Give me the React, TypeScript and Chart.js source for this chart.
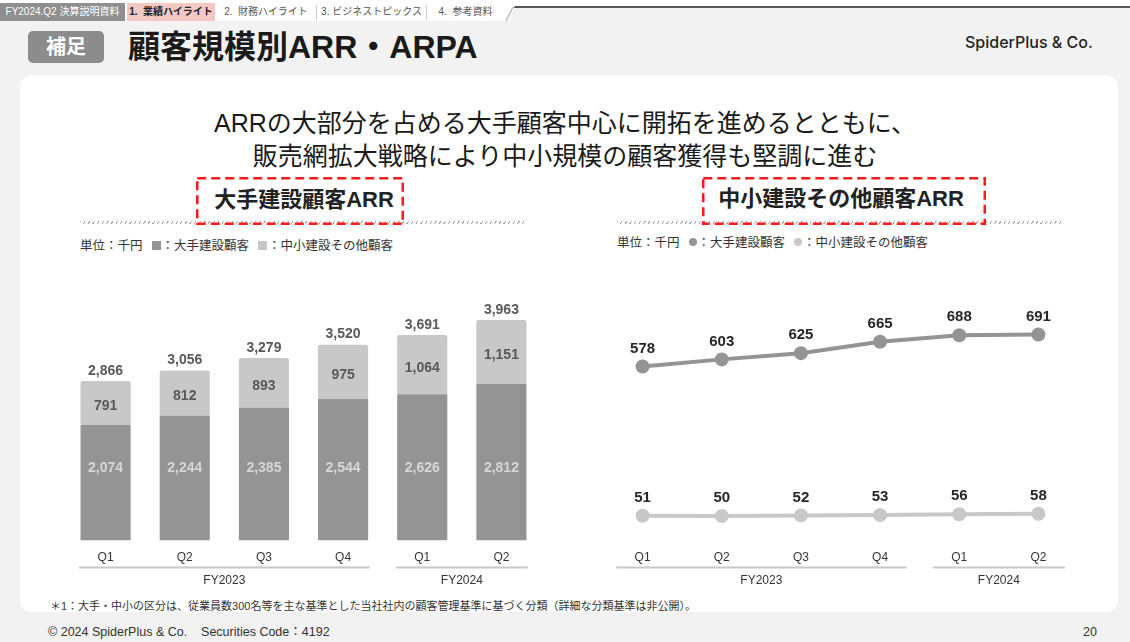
import React, { useEffect, useRef } from "react";
import { Chart, registerables } from "chart.js";

Chart.register(...registerables);

// ---- data ----
const quarters = ["Q1", "Q2", "Q3", "Q4", "Q1", "Q2"];
const fiscalYearLabels = ["FY2023", "FY2024"];
const fiscalYearSpans = [
  [0, 3],
  [4, 5],
];
const largeArr = [2074, 2244, 2385, 2544, 2626, 2812];
const smallArr = [791, 812, 893, 975, 1064, 1151];
const totalArr = [2866, 3056, 3279, 3520, 3691, 3963];
const largeArpa = [578, 603, 625, 665, 688, 691];
const smallArpa = [51, 50, 52, 53, 56, 58];

const DARK = "#949494";
const LIGHT = "#c8c8c8";
const FONT = '"Liberation Sans", "Noto Sans CJK JP", Arial, sans-serif';

const fmt = (v: number) => v.toLocaleString("en-US");

const groupPlugin = {
  id: "fyGroups",
  afterDraw(chart: any) {
    const { ctx, chartArea } = chart;
    const x = chart.scales.x;
    const band = x.getPixelForTick(1) - x.getPixelForTick(0);
    const lineY = chartArea.bottom + 27;
    const labelY = chartArea.bottom + 40;
    ctx.save();
    fiscalYearLabels.forEach((lab, g) => {
      const [a, b] = fiscalYearSpans[g];
      const x0 = x.getPixelForTick(a) - band * 0.335;
      const x1 = x.getPixelForTick(b) + band * 0.335;
      ctx.strokeStyle = LIGHT;
      ctx.lineWidth = 2;
      ctx.beginPath();
      ctx.moveTo(x0, lineY);
      ctx.lineTo(x1, lineY);
      ctx.stroke();
      ctx.fillStyle = "#333";
      ctx.font = `12px ${FONT}`;
      ctx.textAlign = "center";
      ctx.textBaseline = "middle";
      ctx.fillText(lab, (x0 + x1) / 2, labelY);
    });
    ctx.restore();
  },
};

const barLabelPlugin = {
  id: "barLabels",
  afterDatasetsDraw(chart: any) {
    const { ctx } = chart;
    const y = chart.scales.y;
    const m0 = chart.getDatasetMeta(0);
    const m1 = chart.getDatasetMeta(1);
    ctx.save();
    ctx.textAlign = "center";
    ctx.textBaseline = "middle";
    ctx.font = `bold 14px ${FONT}`;
    m0.data.forEach((bar: any, i: number) => {
      ctx.fillStyle = "#d6d6d6";
      ctx.fillText(fmt(largeArr[i]), bar.x, y.getPixelForValue(1300));
      const top = m1.data[i];
      ctx.fillStyle = "#595959";
      ctx.fillText(fmt(smallArr[i]), top.x, (top.y + top.base) / 2 + 3);
      ctx.fillText(fmt(totalArr[i]), top.x, top.y - 10);
    });
    ctx.restore();
  },
};

const pointLabelPlugin = {
  id: "pointLabels",
  afterDatasetsDraw(chart: any) {
    const { ctx } = chart;
    ctx.save();
    ctx.textAlign = "center";
    ctx.textBaseline = "middle";
    ctx.font = `bold 15px ${FONT}`;
    ctx.fillStyle = "#262626";
    [largeArpa, smallArpa].forEach((vals, d) => {
      const meta = chart.getDatasetMeta(d);
      meta.data.forEach((pt: any, i: number) => {
        ctx.fillText(String(vals[i]), pt.x, pt.y - 18);
      });
    });
    ctx.restore();
  },
};

const xAxis = {
  offset: true,
  grid: { display: false, drawTicks: false },
  border: { display: false },
  ticks: { color: "#333", font: { size: 12, family: FONT }, padding: 10 },
};

const layout = { autoPadding: false, padding: { top: 20, bottom: 17, left: 0, right: 0 } };

export default function App() {
  const barRef = useRef<HTMLCanvasElement>(null);
  const lineRef = useRef<HTMLCanvasElement>(null);

  useEffect(() => {
    Chart.defaults.font.family = FONT;
    const bar = new Chart(barRef.current!, {
      type: "bar",
      data: {
        labels: quarters,
        datasets: [
          {
            label: "大手建設顧客",
            data: largeArr,
            backgroundColor: DARK,
            categoryPercentage: 1,
            barPercentage: 0.633,
          },
          {
            label: "中小建設その他顧客",
            data: smallArr,
            backgroundColor: LIGHT,
            categoryPercentage: 1,
            barPercentage: 0.633,
            borderRadius: { topLeft: 2, topRight: 2, bottomLeft: 0, bottomRight: 0 },
            borderSkipped: "bottom",
          },
        ],
      },
      options: {
        responsive: false,
        animation: false,
        devicePixelRatio: 1,
        layout,
        plugins: { legend: { display: false }, tooltip: { enabled: false } },
        scales: {
          x: { ...xAxis, stacked: true },
          y: { display: false, stacked: true, min: 0, max: 4500 },
        },
      },
      plugins: [barLabelPlugin, groupPlugin],
    } as any);

    const line = new Chart(lineRef.current!, {
      type: "line",
      data: {
        labels: quarters,
        datasets: [
          {
            label: "大手建設顧客",
            data: largeArpa,
            borderColor: DARK,
            backgroundColor: DARK,
            borderWidth: 4,
            pointRadius: 7,
            pointBorderWidth: 0,
            pointBackgroundColor: DARK,
            tension: 0,
            clip: false,
          },
          {
            label: "中小建設その他顧客",
            data: smallArpa,
            borderColor: LIGHT,
            backgroundColor: LIGHT,
            borderWidth: 4,
            pointRadius: 7,
            pointBorderWidth: 0,
            pointBackgroundColor: LIGHT,
            tension: 0,
            clip: false,
          },
        ],
      },
      options: {
        responsive: false,
        animation: false,
        devicePixelRatio: 1,
        layout,
        plugins: { legend: { display: false }, tooltip: { enabled: false } },
        scales: {
          x: xAxis,
          y: { display: false, min: -37, max: 848 },
        },
      },
      plugins: [pointLabelPlugin, groupPlugin],
    } as any);

    return () => {
      bar.destroy();
      line.destroy();
    };
  }, []);

  const abs = (s: React.CSSProperties): React.CSSProperties => ({ position: "absolute", ...s });
  const hatch =
    "repeating-linear-gradient(120deg, #a8a8a8 0px, #a8a8a8 1px, transparent 1px, transparent 4px)";

  const tab = (left: number, width: number, text: string, bg: string, color: string, bold = false) => (
    <div
      style={abs({
        left,
        top: 3,
        width,
        height: 18,
        background: bg,
        color,
        fontSize: 10,
        lineHeight: "18px",
        fontWeight: bold ? 700 : 400,
        textAlign: "center",
        whiteSpace: "pre",
      })}
    >
      {text}
    </div>
  );

  const marker = (color: string, round: boolean): React.ReactNode => (
    <span
      style={{
        display: "inline-block",
        width: round ? 8 : 9,
        height: round ? 8 : 9,
        borderRadius: round ? "50%" : 0,
        background: color,
        marginLeft: 9,
        marginRight: 1,
        verticalAlign: round ? "1px" : "0px",
      }}
    />
  );

  return (
    <div
      style={abs({
        left: 0,
        top: 0,
        width: 1130,
        height: 642,
        background: "#f2f2f2",
        overflow: "hidden",
        fontFamily: FONT,
        color: "#1a1a1a",
      })}
    >
      {/* top bar */}
      <div style={abs({ left: 0, top: 0, width: 1130, height: 7, background: "#fff" })} />
      <div style={abs({ left: 0, top: 0, width: 508, height: 21, background: "#fff" })} />
      <div style={abs({ left: 512, top: 6, width: 618, height: 1.5, background: "#555" })} />
      <svg style={abs({ left: 500, top: 0 })} width={20} height={22}>
        <polygon points="0,3 16,3 8,21 0,21" fill="#fff" />
        <line x1={6} y1={21} x2={13} y2={7} stroke="#999" strokeWidth={1} />
      </svg>
      {tab(0, 125, "FY2024.Q2 決算説明資料", "#8f8f8f", "#fff")}
      {tab(127, 88, "1.  業績ハイライト", "#f4c9c4", "#222", true)}
      {tab(217, 98, "2.  財務ハイライト", "#fff", "#555")}
      <div style={abs({ left: 316, top: 5, width: 1, height: 15, background: "#ccc" })} />
      {tab(318, 107, "3. ビジネストピックス", "#fff", "#555")}
      <div style={abs({ left: 426, top: 5, width: 1, height: 15, background: "#ccc" })} />
      {tab(428, 75, "4.  参考資料", "#fff", "#555")}

      {/* title row */}
      <div
        style={abs({
          left: 28,
          top: 31,
          width: 76,
          height: 32,
          background: "#8c8c8c",
          borderRadius: 5,
          color: "#fff",
          fontSize: 20,
          fontWeight: 700,
          lineHeight: "32px",
          textAlign: "center",
        })}
      >
        補足
      </div>
      <div style={abs({ left: 128, top: 27, fontSize: 32, fontWeight: 700, lineHeight: "40px", whiteSpace: "nowrap" })}>
        顧客規模別ARR・ARPA
      </div>
      <div
        style={abs({
          left: 965,
          top: 33,
          fontSize: 16,
          fontWeight: 500,
          lineHeight: "18px",
          fontFamily: 'Inter, "Liberation Sans", sans-serif',
          color: "#222",
          whiteSpace: "nowrap",
        })}
      >
        SpiderPlus &amp; Co.
      </div>

      {/* panel */}
      <div style={abs({ left: 20, top: 75, width: 1098, height: 537, background: "#fff", borderRadius: 12 })} />

      <div
        style={abs({
          left: 0,
          top: 107,
          width: 1130,
          textAlign: "center",
          fontSize: 25,
          lineHeight: "33px",
          color: "#1a1a1a",
        })}
      >
        ARRの大部分を占める大手顧客中心に開拓を進めるとともに、
        <br />
        販売網拡大戦略により中小規模の顧客獲得も堅調に進む
      </div>

      {/* section headers */}
      <div style={abs({ left: 80, top: 221, width: 447, height: 3, background: hatch })} />
      <div style={abs({ left: 617, top: 221, width: 447, height: 3, background: hatch })} />
      <div
        style={abs({ left: 204, top: 187, width: 200, textAlign: "center", fontSize: 22, fontWeight: 700, lineHeight: "26px", color: "#222" })}
      >
        大手建設顧客ARR
      </div>
      <div
        style={abs({ left: 691, top: 186, width: 300, textAlign: "center", fontSize: 22, fontWeight: 700, lineHeight: "26px", color: "#222" })}
      >
        中小建設その他顧客ARR
      </div>
      <svg style={abs({ left: 196, top: 177 })} width={208} height={48}>
        <rect x={1.25} y={1.25} width={205.5} height={45.5} fill="none" stroke="#ff1a1a" strokeWidth={2.5} strokeDasharray="9 5" />
      </svg>
      <svg style={abs({ left: 702, top: 177 })} width={284} height={48}>
        <rect x={1.25} y={1.25} width={281.5} height={45.5} fill="none" stroke="#ff1a1a" strokeWidth={2.5} strokeDasharray="9 5" />
      </svg>

      {/* legends */}
      <div style={abs({ left: 80, top: 238, fontSize: 12.5, lineHeight: "17px", color: "#333", whiteSpace: "nowrap" })}>
        単位：千円
        {marker(DARK, false)}：大手建設顧客
        {marker(LIGHT, false)}：中小建設その他顧客
      </div>
      <div style={abs({ left: 617, top: 234.5, fontSize: 12.5, lineHeight: "17px", color: "#333", whiteSpace: "nowrap" })}>
        単位：千円
        {marker(DARK, true)}：大手建設顧客
        {marker(LIGHT, true)}：中小建設その他顧客
      </div>

      {/* charts */}
      <canvas ref={barRef} width={475} height={322} style={abs({ left: 66, top: 270, display: "block" })} />
      <canvas ref={lineRef} width={475} height={322} style={abs({ left: 603, top: 270, display: "block" })} />

      {/* footnote & footer */}
      <div style={abs({ left: 50, top: 599, fontSize: 11, lineHeight: "14px", color: "#333", whiteSpace: "nowrap" })}>
        ＊1：大手・中小の区分は、従業員数300名等を主な基準とした当社社内の顧客管理基準に基づく分類（詳細な分類基準は非公開）。
      </div>
      <div style={abs({ left: 48, top: 624, fontSize: 12.5, lineHeight: "16px", color: "#333", whiteSpace: "pre" })}>
        {"© 2024 SpiderPlus & Co.    Securities Code：4192"}
      </div>
      <div style={abs({ left: 1083, top: 624, fontSize: 12.5, lineHeight: "16px", color: "#333" })}>20</div>
    </div>
  );
}
